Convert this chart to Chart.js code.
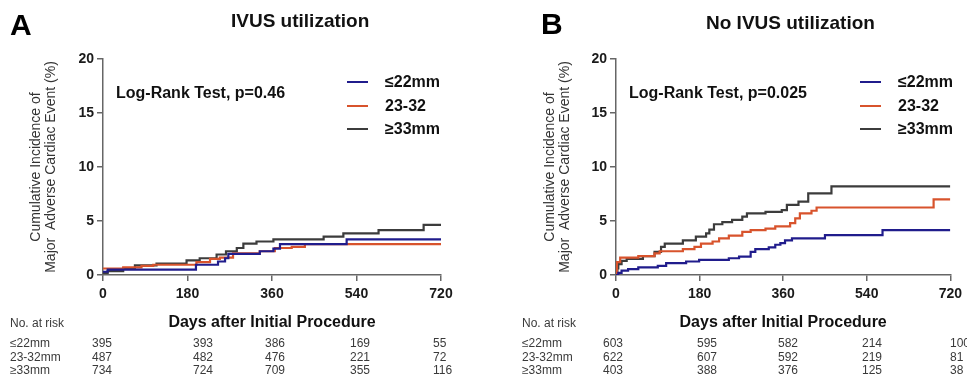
<!DOCTYPE html>
<html>
<head>
<meta charset="utf-8">
<script src="https://cdn.jsdelivr.net/npm/chart.js@4"></script>
<style>
  html, body { margin: 0; padding: 0; background: #fff; }
  body { width: 967px; height: 379px; position: relative; overflow: hidden;
         font-family: "Liberation Sans", Arial, sans-serif; color: #1a1a1a; }
  canvas { position: absolute; top: 0; }
  .t { position: absolute; white-space: nowrap; line-height: 1; }
  .panel { font-size: 30px; font-weight: bold; color: #000; }
  .title { font-size: 19px; font-weight: bold; color: #111; }
  .logrank { font-size: 16px; font-weight: bold; color: #111; }
  .leg { font-size: 16px; font-weight: bold; color: #111; }
  .swatch { position: absolute; width: 21px; height: 2px; }
  .risk { font-size: 12px; color: #3a3a3a; }
</style>
</head>
<body>
<canvas id="chart-a" width="480" height="340" style="left:0"></canvas>
<canvas id="chart-b" width="453" height="340" style="left:514px"></canvas>

<script>
// ---- data ----
const dayTicks = [0, 180, 360, 540, 720];
const legendLabels = ['≤22mm', '23-32', '≥33mm'];
const riskLabels = ['≤22mm', '23-32mm', '≥33mm'];

// A: IVUS utilization
const ivusSmallDays = [0, 10, 198, 245, 260, 267, 334, 363, 377, 519, 720];
const ivusSmallInc  = [0.3, 0.5, 0.95, 1.25, 1.55, 1.95, 2.2, 2.45, 2.85, 3.3, 3.3];
const ivusMidDays   = [0, 43, 82, 107, 199, 228, 249, 277, 334, 366, 402, 430, 720];
const ivusMidInc    = [0.6, 0.7, 0.85, 0.95, 1.2, 1.5, 1.6, 2.0, 2.2, 2.5, 2.6, 2.85, 2.85];
const ivusLargeDays = [0, 10, 43, 68, 114, 178, 206, 242, 262, 285, 299, 327, 363, 470, 512, 587, 683, 720];
const ivusLargeInc  = [0.2, 0.35, 0.6, 0.9, 1.05, 1.35, 1.55, 1.9, 2.2, 2.5, 2.9, 3.1, 3.3, 3.55, 3.85, 4.15, 4.65, 4.65];
const ivusRisk = [
  [395, 393, 386, 169, 55],
  [487, 482, 476, 221, 72],
  [734, 724, 709, 355, 116],
];

// B: No IVUS utilization
const noSmallDays = [0, 5, 12, 26, 48, 90, 108, 151, 179, 243, 265, 290, 300, 329, 343, 354, 364, 379, 450, 574, 720];
const noSmallInc  = [0, 0.2, 0.4, 0.55, 0.7, 0.85, 1.1, 1.25, 1.4, 1.55, 1.7, 2.15, 2.4, 2.55, 2.8, 2.95, 3.2, 3.4, 3.7, 4.15, 4.15];
const noMidDays   = [0, 2, 9, 48, 83, 94, 144, 169, 183, 208, 222, 243, 272, 290, 322, 343, 375, 386, 396, 421, 432, 684, 720];
const noMidInc    = [0, 1.2, 1.6, 1.75, 2.0, 2.2, 2.4, 2.6, 2.9, 3.1, 3.4, 3.65, 4.0, 4.15, 4.3, 4.5, 4.8, 5.25, 5.7, 5.95, 6.25, 7.0, 7.0];
const noLargeDays = [0, 3, 5, 12, 23, 58, 83, 97, 105, 144, 172, 194, 201, 211, 229, 250, 272, 282, 322, 357, 368, 393, 414, 464, 720];
const noLargeInc  = [0, 0.6, 1.0, 1.3, 1.5, 1.75, 2.15, 2.6, 2.9, 3.2, 3.55, 3.85, 4.2, 4.7, 4.9, 5.1, 5.4, 5.7, 5.85, 6.0, 6.5, 6.8, 7.55, 8.2, 8.2];
const noRisk = [
  [603, 595, 582, 214, 100],
  [622, 607, 592, 219, 81],
  [403, 388, 376, 125, 38],
];

const COLORS = ['#201c8c', '#d8532c', '#3c3c3c'];
const AXIS = '#666';

function pts(days, inc) {
  return days.map((d, i) => ({ x: d, y: inc[i] }));
}

function series(pairs) {
  return pairs.map(([days, inc], i) => ({
    data: pts(days, inc),
    borderColor: COLORS[i],
    borderWidth: 2.2,
    stepped: true,
    pointRadius: 0,
    fill: false,
    tension: 0,
  }));
}

function makeChart(id, datasets, yWidth, padRight) {
  return new Chart(document.getElementById(id), {
    type: 'line',
    data: { datasets },
    options: {
      responsive: false,
      animation: false,
      devicePixelRatio: 1,
      layout: { padding: { top: 59, right: padRight, bottom: 0, left: 0 } },
      plugins: { legend: { display: false }, tooltip: { enabled: false } },
      scales: {
        x: {
          type: 'linear', min: 0, max: 720,
          afterBuildTicks: (s) => { s.ticks = dayTicks.map((v) => ({ value: v })); },
          afterFit: (s) => { s.height = 65; },
          ticks: { color: '#1a1a1a', font: { size: 14, weight: 'bold' }, padding: 5, maxRotation: 0 },
          grid: { drawOnChartArea: false, drawTicks: true, tickLength: 6, color: AXIS, lineWidth: 1.5 },
          border: { color: AXIS, width: 1.5 },
          title: {
            display: true, text: 'Days after Initial Procedure', color: '#111',
            font: { size: 16, weight: 'bold' }, padding: { top: 0, bottom: 8 },
          },
        },
        y: {
          min: 0, max: 20,
          afterFit: (s) => { s.width = yWidth; },
          ticks: { stepSize: 5, color: '#1a1a1a', font: { size: 14, weight: 'bold' }, padding: 3 },
          grid: { drawOnChartArea: false, drawTicks: true, tickLength: 6, color: AXIS, lineWidth: 1.5 },
          border: { color: AXIS, width: 1.5 },
          title: {
            display: true,
            text: ['Cumulative Incidence of', 'Major  Adverse Cardiac Event (%)'],
            color: '#333', font: { size: 14, lineHeight: 1.07 }, padding: { top: 29, bottom: 0 },
          },
        },
      },
    },
  });
}

makeChart('chart-a', series([
  [ivusSmallDays, ivusSmallInc], [ivusMidDays, ivusMidInc], [ivusLargeDays, ivusLargeInc],
]), 103, 39);

makeChart('chart-b', series([
  [noSmallDays, noSmallInc], [noMidDays, noMidInc], [noLargeDays, noLargeInc],
]), 102, 14);

// ---- text overlays ----
function text(cls, str, left, top) {
  const el = document.createElement('div');
  el.className = 't ' + cls;
  el.textContent = str;
  el.style.left = left + 'px';
  el.style.top = top + 'px';
  document.body.appendChild(el);
  return el;
}

function panelText(p) {
  text('panel', p.letter, p.letterX, p.letterY);
  text('title', p.title, p.titleX, p.titleY);
  text('logrank', p.logrank, p.rankX, 85);
  legendLabels.forEach((lab, i) => {
    const y = 82 + i * 23.5;
    const sw = document.createElement('div');
    sw.className = 'swatch';
    sw.style.background = COLORS[i];
    sw.style.left = p.legX + 'px';
    sw.style.top = (y - 1) + 'px';
    document.body.appendChild(sw);
    text('leg', lab, p.legX + 38, y - 7.6);
  });
  text('risk', 'No. at risk', p.riskX, 317);
  riskLabels.forEach((lab, r) => {
    const y = 337 + r * 13.5;
    text('risk', lab, p.riskX, y);
    p.risk[r].forEach((n, c) => text('risk', String(n), p.cols[c], y));
  });
}

panelText({
  letter: 'A', letterX: 10, letterY: 9.5,
  title: 'IVUS utilization', titleX: 231, titleY: 11,
  logrank: 'Log-Rank Test, p=0.46', rankX: 116, legX: 347,
  riskX: 10, cols: [92, 193, 265, 350, 433], risk: ivusRisk,
});
panelText({
  letter: 'B', letterX: 541, letterY: 8.5,
  title: 'No IVUS utilization', titleX: 706, titleY: 12.5,
  logrank: 'Log-Rank Test, p=0.025', rankX: 629, legX: 860,
  riskX: 522, cols: [603, 697, 778, 862, 950], risk: noRisk,
});
</script>
</body>
</html>
